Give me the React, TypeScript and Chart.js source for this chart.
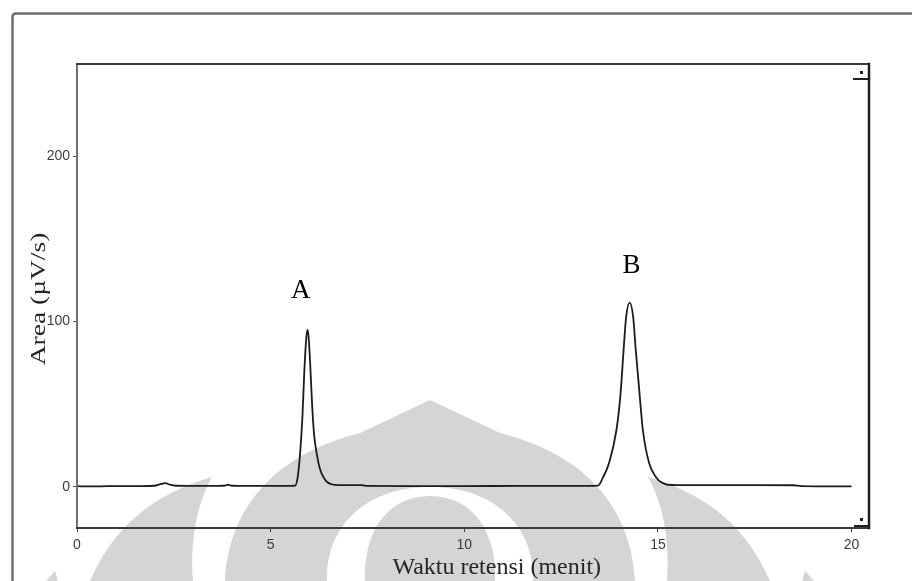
import React, { useEffect, useRef } from "react";
import { Chart, registerables } from "chart.js";

Chart.register(...registerables);

// ---- data ----
const retentionTimes = [
  0, 0.4, 0.8, 1.2, 1.6, 2.0, 2.15, 2.28, 2.4, 2.55, 3.0, 3.5, 3.8, 3.9, 4.0,
  4.3, 5.0, 5.5, 5.63, 5.7, 5.76, 5.82, 5.87, 5.92, 5.95, 5.98, 6.02, 6.07, 6.12,
  6.19, 6.27, 6.36, 6.45, 6.57, 6.75, 7.0, 7.35, 7.45, 8.5, 10, 11.5, 12.5, 13.2,
  13.45, 13.58, 13.74, 13.93, 14.03, 14.12, 14.18, 14.27, 14.36, 14.42, 14.53,
  14.61, 14.77, 14.96, 15.1, 15.25, 15.5, 16.5, 17.5, 18.5, 18.7, 19.3, 20.0,
];
const signalValues = [
  0.3, 0.2, 0.3, 0.3, 0.4, 0.6, 1.5, 2.2, 1.2, 0.6, 0.5, 0.5, 0.6, 1.2, 0.6,
  0.5, 0.5, 0.5, 0.6, 6, 20, 42, 70, 90, 95, 91, 75, 50, 32,
  20, 11, 6, 3, 1.5, 1.0, 1.0, 1.0, 0.5, 0.4, 0.4, 0.5, 0.5, 0.5,
  0.7, 5.5, 14.5, 34.5, 55, 85, 103, 111.5, 103, 85, 55,
  34.5, 14.5, 5.5, 2.5, 1.2, 1.0, 1.0, 1.0, 0.9, 0.3, 0.2, 0.2,
];
const xTickValues = [0, 5, 10, 15, 20];
const yTickValues = [0, 100, 200];
const xMin = 0;
const xMax = 20.45;
const yMin = -25;
const yMax = 256;
const peakLabels = ["A", "B"];
const peakLabelTimes = [5.78, 14.32];
const peakLabelValues = [114.5, 129.6];
const xAxisTitle = "Waktu retensi (menit)";
const yAxisTitle = "Area (\u00b5V/s)";

const W = 912;
const H = 581;

const decorPlugin = {
  id: "decor",
  beforeDraw(chart: any) {
    const ctx = chart.ctx as CanvasRenderingContext2D;
    ctx.save();
    ctx.fillStyle = "#ffffff";
    ctx.fillRect(0, 0, chart.width, chart.height);

    // watermark (light gray logo at the bottom)
    const cx = 430;
    const m = (x: number) => 2 * cx - x;
    const gray = "#d5d5d5";
    ctx.fillStyle = gray;
    // big dome
    ctx.beginPath();
    ctx.moveTo(225, 581);
    ctx.bezierCurveTo(228, 520, 262, 458, 360, 433);
    ctx.lineTo(cx, 400);
    ctx.lineTo(m(360), 433);
    ctx.bezierCurveTo(m(262), 458, m(228), 520, m(225), 581);
    ctx.closePath();
    ctx.fill();
    // white arch
    ctx.fillStyle = "#ffffff";
    ctx.beginPath();
    ctx.moveTo(327, 581);
    ctx.bezierCurveTo(325, 530, 362, 487, cx, 487);
    ctx.bezierCurveTo(m(362), 487, m(325), 530, m(327), 581);
    ctx.closePath();
    ctx.fill();
    // inner dome
    ctx.fillStyle = gray;
    ctx.beginPath();
    ctx.moveTo(365, 581);
    ctx.bezierCurveTo(363, 535, 385, 496, cx, 496);
    ctx.bezierCurveTo(m(385), 496, m(363), 535, m(365), 581);
    ctx.closePath();
    ctx.fill();
    // wings
    const wing = (s: number) => {
      const f = (x: number) => (s > 0 ? x : m(x));
      ctx.beginPath();
      ctx.moveTo(f(90), 581);
      ctx.bezierCurveTo(f(112), 530, f(150), 495, f(212), 477);
      ctx.bezierCurveTo(f(196), 505, f(190), 545, f(193), 581);
      ctx.closePath();
      ctx.fill();
      ctx.beginPath();
      ctx.moveTo(f(46), 581);
      ctx.lineTo(f(55), 571);
      ctx.lineTo(f(58), 581);
      ctx.closePath();
      ctx.fill();
    };
    wing(1);
    wing(-1);

    // outer page border
    ctx.strokeStyle = "#6f6f6f";
    ctx.lineWidth = 2.5;
    ctx.beginPath();
    ctx.moveTo(12.5, chart.height + 5);
    ctx.lineTo(12.5, 17);
    ctx.quadraticCurveTo(12.5, 13.5, 16, 13.5);
    ctx.lineTo(chart.width + 5, 13.5);
    ctx.stroke();
    ctx.restore();
  },
  afterDraw(chart: any) {
    const ctx = chart.ctx as CanvasRenderingContext2D;
    const { left, right, top, bottom } = chart.chartArea;
    const xs = chart.scales.x;
    const ys = chart.scales.y;
    ctx.save();
    // frame
    ctx.lineCap = "square";
    ctx.strokeStyle = "#707070";
    ctx.lineWidth = 2;
    ctx.beginPath();
    ctx.moveTo(left, top);
    ctx.lineTo(left, bottom);
    ctx.stroke();
    ctx.strokeStyle = "#3a3a3a";
    ctx.lineWidth = 2;
    ctx.beginPath();
    ctx.moveTo(left, bottom);
    ctx.lineTo(right, bottom);
    ctx.moveTo(left, top);
    ctx.lineTo(right, top);
    ctx.stroke();
    ctx.strokeStyle = "#1e1e1e";
    ctx.lineWidth = 2.5;
    ctx.beginPath();
    ctx.moveTo(right, top);
    ctx.lineTo(right, bottom);
    ctx.stroke();
    // small corner markers
    ctx.lineWidth = 2;
    ctx.beginPath();
    ctx.moveTo(right - 15, top + 15);
    ctx.lineTo(right, top + 15);
    ctx.moveTo(right - 14, bottom - 2);
    ctx.lineTo(right, bottom - 2);
    ctx.lineTo(right, bottom - 10);
    ctx.stroke();
    ctx.fillStyle = "#1e1e1e";
    ctx.fillRect(right - 9, top + 7, 3, 3);
    ctx.fillRect(right - 9, bottom - 10, 3, 3);

    // axis titles
    ctx.fillStyle = "#262626";
    ctx.font = "24px 'Liberation Serif', 'Times New Roman', serif";
    ctx.textAlign = "center";
    ctx.textBaseline = "alphabetic";
    ctx.fillText(xAxisTitle, left + 0.53 * (right - left), chart.height - 7);
    ctx.save();
    ctx.translate(39, (top + bottom) / 2 + 3);
    ctx.rotate(-Math.PI / 2);
    ctx.scale(1.25, 1);
    ctx.font = "22px 'Liberation Serif', 'Times New Roman', serif";
    ctx.textBaseline = "middle";
    ctx.fillText(yAxisTitle, 0, 0);
    ctx.restore();

    // peak labels
    ctx.fillStyle = "#000";
    ctx.font = "27px 'Liberation Serif', 'Times New Roman', serif";
    ctx.textAlign = "center";
    ctx.textBaseline = "alphabetic";
    peakLabels.forEach((lab, i) => {
      ctx.fillText(
        lab,
        xs.getPixelForValue(peakLabelTimes[i]),
        ys.getPixelForValue(peakLabelValues[i])
      );
    });
    ctx.restore();
  },
};

export default function App() {
  const ref = useRef<HTMLCanvasElement | null>(null);
  useEffect(() => {
    document.body.style.margin = "0";
    const canvas = ref.current;
    if (!canvas) return;
    const points = retentionTimes.map((t, i) => ({ x: t, y: signalValues[i] }));
    const tickFont = { family: "'Liberation Sans', Arial, sans-serif", size: 14 };
    const chart = new Chart(canvas, {
      type: "line",
      data: {
        datasets: [
          {
            data: points,
            borderColor: "#1c1c1c",
            borderWidth: 1.8,
            pointRadius: 0,
            fill: false,
            cubicInterpolationMode: "monotone",
          },
        ],
      },
      options: {
        responsive: false,
        animation: false,
        devicePixelRatio: 1,
        layout: { padding: { left: 0, top: 64, right: W - 869, bottom: 0 } },
        plugins: {
          legend: { display: false },
          tooltip: { enabled: false },
          title: { display: false },
        },
        scales: {
          x: {
            type: "linear",
            min: xMin,
            max: xMax,
            afterBuildTicks: (s: any) => {
              s.ticks = xTickValues.map((v) => ({ value: v }));
            },
            afterFit: (s: any) => {
              s.height = H - 528;
            },
            ticks: {
              font: tickFont,
              color: "#3c3c3c",
              padding: 5,
              maxRotation: 0,
              callback: (v: any) => String(v),
            },
            grid: {
              display: true,
              drawOnChartArea: false,
              drawTicks: true,
              tickLength: 4,
              color: "#3a3a3a",
            },
            border: { display: false },
          },
          y: {
            type: "linear",
            min: yMin,
            max: yMax,
            afterBuildTicks: (s: any) => {
              s.ticks = yTickValues.map((v) => ({ value: v }));
            },
            afterFit: (s: any) => {
              s.width = 77;
            },
            ticks: {
              font: tickFont,
              color: "#3c3c3c",
              padding: 3,
              callback: (v: any) => String(v),
            },
            grid: {
              display: true,
              drawOnChartArea: false,
              drawTicks: true,
              tickLength: 4,
              color: "#555",
            },
            border: { display: false },
          },
        },
      },
      plugins: [decorPlugin],
    });
    return () => chart.destroy();
  }, []);
  return (
    <canvas
      ref={ref}
      width={W}
      height={H}
      style={{ display: "block", width: W, height: H }}
    />
  );
}
